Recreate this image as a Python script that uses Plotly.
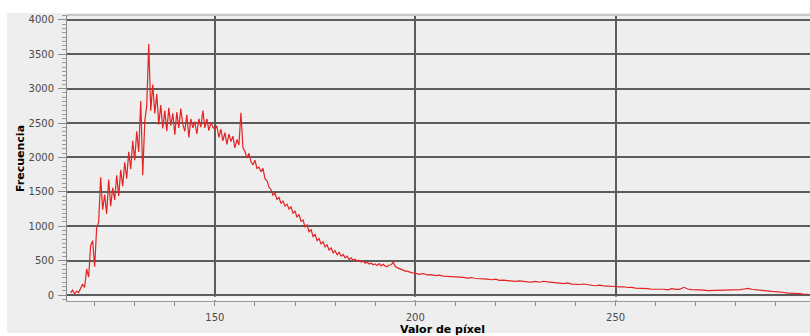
import plotly.graph_objects as go

# Histogram: fine part (step 0.5 from 114.0), tail (step 1 from 200)
freq_fine = [
    30, 70, 15, 55, 35, 90, 160, 110, 380, 260,            # 114.0-118.5
    720, 790, 410, 980, 1060, 1710, 1240, 1460, 1180, 1680,  # 119.0-123.5
    1290, 1560, 1380, 1740, 1440, 1820, 1580, 1930, 1690, 2080,  # 124.0-128.5
    1830, 2240, 1960, 2380, 2080, 2820, 1740, 2520, 2760, 3650,  # 129.0-133.5
    2680, 3060, 2640, 2920, 2480, 2760, 2420, 2680, 2380, 2720,  # 134.0-138.5
    2460, 2640, 2330, 2660, 2430, 2710, 2480, 2380, 2620, 2290,  # 139.0-143.5
    2560, 2430, 2520, 2340, 2560, 2440, 2680, 2430, 2560, 2390,  # 144.0-148.5
    2510, 2440, 2410, 2460, 2290, 2410, 2240, 2360, 2190, 2340,  # 149.0-153.5
    2230, 2310, 2140, 2260, 2180, 2650, 2140, 2090, 1990, 2060,  # 154.0-158.5
    1940, 1890, 1960, 1840, 1860, 1790, 1840, 1690, 1660, 1570,  # 159.0-163.5
    1530, 1450, 1480, 1390, 1420, 1330, 1370, 1290, 1320, 1250,  # 164.0-168.5
    1280, 1190, 1220, 1130, 1170, 1070, 1090, 990, 1020, 920,    # 169.0-173.5
    950, 850, 880, 790, 820, 740, 775, 700, 730, 650,            # 174.0-178.5
    690, 610, 645, 585, 620, 565, 590, 540, 565, 515,            # 179.0-183.5
    540, 505, 520, 490, 505, 478, 490, 460, 476, 450,            # 184.0-188.5
    462, 440, 452, 430, 456, 424, 446, 420, 414, 436,            # 189.0-193.5
    440, 478, 418, 398, 386, 368, 362, 348, 346, 333,            # 194.0-198.5
    326, 320,                                                    # 199.0-199.5
]
freq_tail = [
    318, 300, 312, 292, 296, 282, 290, 274, 272, 268,  # 200-209
    264, 258, 257, 246, 254, 240, 242, 236, 232, 222,  # 210-219
    230, 212, 216, 210, 207, 198, 205, 192, 190, 188,  # 220-229
    198, 186, 200, 190, 187, 177, 174, 165, 176, 158,  # 230-239
    152, 153, 160, 147, 142, 135, 144, 132, 132, 122,  # 240-249
    124, 117, 120, 109, 112, 100, 100, 92, 92, 84,     # 250-259
    86, 78, 84, 76, 92, 83, 82, 112, 87, 78,           # 260-269
    78, 70, 72, 64, 66, 60, 70, 68, 74, 76,            # 270-279
    77, 78, 87, 95, 84, 76, 72, 58, 54, 53,            # 280-289
    50, 38, 37, 28, 27, 18, 20, 11, 10,                # 290-298
]
fine_start, fine_step = 114.0, 0.5
tail_start, tail_step = 200, 1

x_tick_vals = [150, 200, 250]
y_tick_vals = [0, 500, 1000, 1500, 2000, 2500, 3000, 3500, 4000]

x_vals = [fine_start + fine_step * i for i in range(len(freq_fine))] + \
         [tail_start + tail_step * i for i in range(len(freq_tail))]
y_vals = freq_fine + freq_tail

FONT = "DejaVu Sans"
BG = "#eeeeee"

fig = go.Figure()
fig.add_trace(go.Scatter(x=x_vals, y=y_vals, mode="lines",
                         line=dict(color="rgb(228,35,35)", width=1.2),
                         hoverinfo="skip", showlegend=False))

fig.update_layout(
    width=810, height=336,
    margin=dict(l=67, r=0, t=15, b=35),
    paper_bgcolor="white",
    plot_bgcolor=BG,
    font=dict(family=FONT, size=10, color="#4a4a4a"),
    xaxis=dict(
        range=[113.1, 298.5],
        tickvals=x_tick_vals,
        showgrid=True, gridcolor="#5c5c5c", gridwidth=1.5,
        zeroline=False,
        showline=True, linecolor="#9a9a9a", linewidth=1,
        ticks="outside", ticklen=4, tickcolor="#8a8a8a",
        minor=dict(dtick=10, ticks="outside", ticklen=4, tickcolor="#8a8a8a", showgrid=False),
        ticklabelstandoff=3,
        tickfont=dict(family=FONT, size=10, color="#4a4a4a"),
    ),
    yaxis=dict(
        range=[-87, 4070],
        tickvals=y_tick_vals,
        showgrid=True, gridcolor="#5c5c5c", gridwidth=1.5,
        zeroline=False,
        showline=True, linecolor="#8a8a8a", linewidth=1,
        ticks="outside", ticklen=8, tickcolor="#8a8a8a",
        minor=dict(dtick=62.5, ticks="outside", ticklen=4, tickcolor="#9a9a9a", showgrid=False),
        ticklabelstandoff=2,
        tickfont=dict(family=FONT, size=10, color="#4a4a4a"),
    ),
    shapes=[
        dict(type="rect", xref="paper", yref="paper", x0=-60/743, x1=1, y0=-32/286, y1=1 + 2/286,
             fillcolor=BG, line=dict(width=0), layer="below"),
        dict(type="rect", xref="paper", yref="y", x0=0.001, x1=1, y0=-80, y1=-24,
             fillcolor="#f8f8f8", line=dict(width=0), layer="above"),
        dict(type="line", xref="paper", yref="paper", x0=0, x1=1, y0=1, y1=1,
             line=dict(color="#c8c8c8", width=2), layer="above"),
    ],
    annotations=[
        dict(text="<b>Frecuencia</b>", xref="paper", yref="paper",
             x=-47/743, y=0.5, xanchor="center", yanchor="middle",
             textangle=-90, showarrow=False,
             font=dict(family=FONT, size=11, color="black")),
        dict(text="<b>Valor de píxel</b>", xref="paper", yref="paper",
             x=0.505, y=-28.5/286, xanchor="center", yanchor="middle",
             showarrow=False, font=dict(family=FONT, size=11, color="black")),
    ],
)

fig.write_html("out.html")
